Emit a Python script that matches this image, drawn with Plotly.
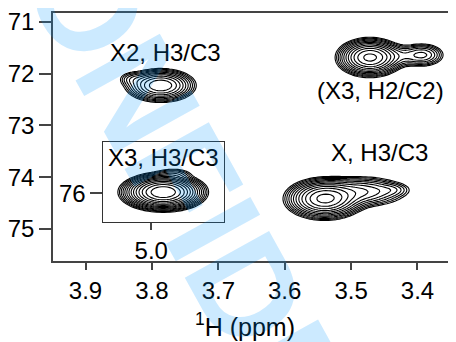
import numpy as np
import plotly.graph_objects as go

# ---- data ----
x_ticks = [3.9, 3.8, 3.7, 3.6, 3.5, 3.4]
x_ticktext = ["3.9", "3.8", "3.7", "3.6", "3.5", "3.4"]
y_ticks = [71, 72, 73, 74, 75]
y_ticktext = ["71", "72", "73", "74", "75"]
inset_x_ticks = [5.0]
inset_x_ticktext = ["5.0"]
inset_y_ticks = [76]
inset_y_ticktext = ["76"]

# cross-peak components in the main spectrum (1H ppm, 13C ppm, 1H width, 13C width, intensity)
peak_h = [3.787, 3.830, 3.472, 3.428, 3.392, 3.540, 3.484, 3.436]
peak_c = [72.23, 72.10, 71.69, 71.66, 71.64, 74.42, 74.28, 74.24]
peak_wh = [0.022, 0.012, 0.020, 0.022, 0.016, 0.024, 0.032, 0.014]
peak_wc = [0.135, 0.080, 0.150, 0.110, 0.110, 0.160, 0.140, 0.070]
peak_amp = [20, 2, 30, 3, 6, 30, 8, 1.5]

# cross-peak components in the inset (X3, H3/C3)
inset_h = [4.982, 4.965]
inset_c = [75.98, 75.62]
inset_wh = [0.0236, 0.015]
inset_wc = [0.135, 0.060]
inset_amp = [67, 2]

labels = ["X2, H3/C3", "(X3, H2/C2)", "X, H3/C3"]
inset_label = "X3, H3/C3"

# ---- spectrum grids ----
def spectrum(gx, gy, hs, cs, whs, wcs, amps):
    X, Y = np.meshgrid(gx, gy)
    f = np.zeros_like(X)
    for h, c, wh, wc, a in zip(hs, cs, whs, wcs, amps):
        f += a * np.exp(-0.5 * ((X - h) / wh) ** 2 - 0.5 * ((Y - c) / wc) ** 2)
    return np.log(f + 1e-12)

gx = np.arange(3.33, 3.97, 0.004)
gy = np.arange(70.8, 75.7, 0.03)
z_main = spectrum(gx, gy, peak_h, peak_c, peak_wh, peak_wc, peak_amp)

igx = np.arange(4.88, 5.08, 0.004)
igy = np.arange(75.0, 76.6, 0.03)
z_inset = spectrum(igx, igy, inset_h, inset_c, inset_wh, inset_wc, inset_amp)

levels = dict(start=0, end=float(np.log(200)), size=float(np.log(1.35)), coloring="lines")
black = [[0, "black"], [1, "black"]]

fig = go.Figure()
fig.add_trace(go.Contour(x=gx, y=gy, z=z_main, contours=levels, colorscale=black,
                         line=dict(width=1.1, smoothing=0), showscale=False,
                         hoverinfo="skip", xaxis="x", yaxis="y"))
fig.add_trace(go.Contour(x=igx, y=igy, z=z_inset, contours=levels, colorscale=black,
                         line=dict(width=1.1, smoothing=0), showscale=False,
                         hoverinfo="skip", xaxis="x2", yaxis="y2"))

# page is drawn with an 8px body margin, so the figure is made 8px smaller
OFF = 8
W, H = 456 - OFF, 342 - OFF
L, R, T, B = 49, 456, 12, 261   # plot area in page pixels
pw, ph = R - L, B - T


def px(x):
    return (x - L) / pw


def py(y):
    return (B - y) / ph


font = "Liberation Sans, Arial, sans-serif"
axcol = "#444444"
tfs = 24

common = dict(ticks="outside", tickwidth=1.5, tickcolor=axcol, showline=True,
              showgrid=False, zeroline=False, tickfont=dict(size=tfs),
              ticklabeloverflow="allow")

fig.update_layout(
    width=W, height=H,
    margin=dict(l=L - OFF, r=456 - R, t=T - OFF, b=342 - B, pad=0),
    paper_bgcolor="white", plot_bgcolor="rgba(0,0,0,0)",
    showlegend=False,
    font=dict(family=font, size=tfs, color="black"),
    xaxis=dict(domain=[0, 1], range=[3.949, 3.342], tickvals=x_ticks, ticktext=x_ticktext,
               ticklen=7, linecolor=axcol, linewidth=1.5, mirror=True, **common),
    yaxis=dict(domain=[0, 1], range=[75.62, 70.83], tickvals=y_ticks, ticktext=y_ticktext,
               ticklen=12, linecolor=axcol, linewidth=1.5, mirror=False, **common),
    xaxis2=dict(domain=[px(100), px(222)], anchor="y2", range=[5.072, 4.89],
                tickvals=inset_x_ticks, ticktext=inset_x_ticktext,
                ticklen=7, linecolor="#333333", linewidth=1.2, mirror=True, **common),
    yaxis2=dict(domain=[py(222), py(142)], anchor="x2", range=[76.56, 75.02],
                tickvals=inset_y_ticks, ticktext=inset_y_ticktext,
                ticklen=12, linecolor="#333333", linewidth=1.2, mirror=True, **common),
)

ann = []
for text, (cx, cy) in zip(labels, [(163, 52), (380, 90), (379, 152)]):
    ann.append(dict(text=text, x=px(cx), y=py(cy), xref="paper", yref="paper",
                    xanchor="center", yanchor="middle", showarrow=False,
                    font=dict(size=24, color="black", family=font)))
ann.append(dict(text=inset_label, x=px(161), y=py(157), xref="paper", yref="paper",
                xanchor="center", yanchor="middle", showarrow=False,
                font=dict(size=24, color="black", family=font)))
ann.append(dict(text="<sup>1</sup>H (ppm)", x=px(243), y=py(325), xref="paper", yref="paper",
                xanchor="center", yanchor="middle", showarrow=False,
                font=dict(size=25, color="black", family=font)))
# watermark
ann.append(dict(text="<b>CONFIDENTIAL</b>", x=px(262), y=py(321), xref="paper", yref="paper",
                xanchor="center", yanchor="middle", showarrow=False, textangle=61,
                font=dict(size=140, color="rgba(0,150,255,0.2)", family=font)))
fig.update_layout(annotations=ann)

fig.write_html("out.html")
